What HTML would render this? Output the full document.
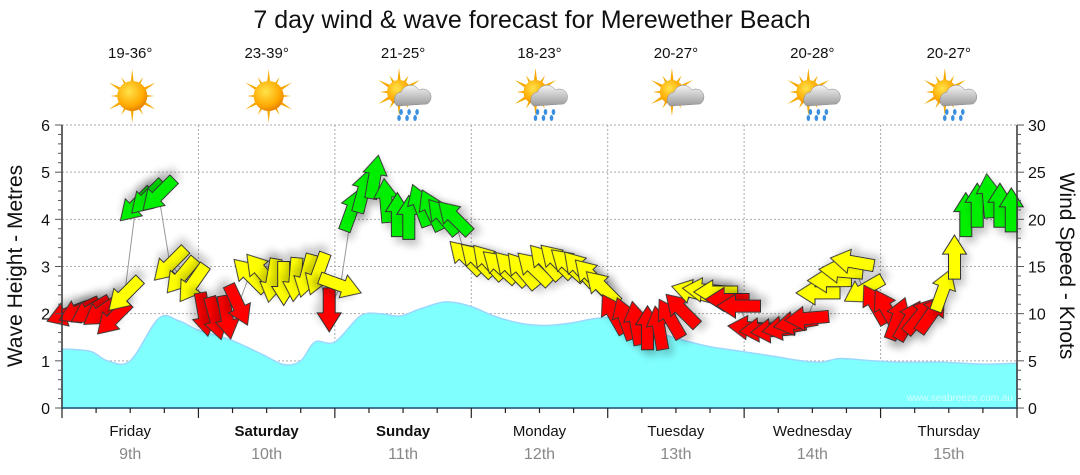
<!DOCTYPE html>
<html><head><meta charset="utf-8"><style>
html,body{margin:0;padding:0;background:#fff;}
svg{display:block;font-family:"Liberation Sans",Verdana,sans-serif;}
</style></head><body>
<svg id="chart" width="1080" height="475" viewBox="0 0 1080 475">
<defs>
<filter id="sh" x="-50%" y="-50%" width="200%" height="200%"><feGaussianBlur in="SourceAlpha" stdDeviation="4"/><feOffset dx="4" dy="6"/><feComponentTransfer><feFuncA type="linear" slope="0.22"/></feComponentTransfer><feMerge><feMergeNode/><feMergeNode in="SourceGraphic"/></feMerge></filter>
<radialGradient id="sun" cx="0.4" cy="0.35" r="0.7"><stop offset="0" stop-color="#ffe34a"/><stop offset="0.7" stop-color="#ffa800"/><stop offset="1" stop-color="#e07a00"/></radialGradient>
<linearGradient id="cloud" x1="0" y1="0" x2="0" y2="1"><stop offset="0" stop-color="#f4f4f4"/><stop offset="1" stop-color="#9a9a9a"/></linearGradient>
</defs>
<text x="532" y="28" text-anchor="middle" font-size="25" fill="#111">7 day wind &amp; wave forecast for Merewether Beach</text>
<g id="grid"></g>
<g id="wave"></g>
<g id="wind"></g>
<g id="axes"></g>
<g id="topg"></g>
<text x="1013" y="401" text-anchor="end" font-size="10" fill="#d0ffff">www.seabreeze.com.au</text>
<text transform="translate(22,266) rotate(-90)" text-anchor="middle" font-size="21" fill="#111">Wave Height - Metres</text>
<text transform="translate(1060,266) rotate(90)" text-anchor="middle" font-size="21" fill="#111">Wind Speed - Knots</text>
</svg>
<script>
const days = ["Friday","Saturday","Sunday","Monday","Tuesday","Wednesday","Thursday"];
const dates = ["9th","10th","11th","12th","13th","14th","15th"];
const boldDays = [false,true,true,false,false,false,false];
const temps = ["19-36°","23-39°","21-25°","18-23°","20-27°","20-28°","20-27°"];
const icons = ["sun","sun","rain","rain","cloud","rain","rain"];
const waveTicks = [0,1,2,3,4,5,6];
const windTicks = [0,5,10,15,20,25,30];
const waveHours = [0,5,8,12,17,20.5,24,29.5,35,39,42,44.5,48,52.5,56,59.5,63,67.5,72,76,80.5,85,89.5,94,98,103.5,109,114,119.5,125,130,133.5,137,142.5,147.5,155,162,168];
const waveHeights = [1.25,1.2,1.0,1.0,1.9,1.85,1.65,1.45,1.15,0.92,1.0,1.4,1.4,1.95,2.0,1.95,2.1,2.25,2.15,1.95,1.8,1.75,1.8,1.9,1.9,1.65,1.45,1.3,1.2,1.1,1.0,0.97,1.05,1.0,0.97,0.97,0.93,0.95];
const windSpeeds = [10,10.3,10.3,10.2,9.5,12,21.5,22.3,22.6,15.2,14,13.2,
 9.9,9.5,9.6,10.9,14.1,14.5,13.5,13.2,13.6,14,14.2,10.4,
 13,21,23,24.5,22,20.5,20.2,21.5,21,20.3,20.2,16,
 15.7,15.5,15,14.8,14.6,14.8,15.5,15.6,15.2,14.8,14,12.8,
 10,9.5,9,8.5,8.5,9.5,10.4,12.3,12.5,12.3,11.5,10.8,
 8.5,8.3,8.2,8.5,9,9.5,12.2,13.5,14.5,15.5,12.5,11,
 10.5,9.5,9.3,9.8,10,12.5,16,20.5,21.5,22.5,21.5,21];
const windDirs = [250,245,240,235,225,225,225,225,225,225,220,215,
 170,165,170,155,315,320,190,180,185,195,200,180,
 110,20,15,10,355,0,0,340,335,320,315,315,
 315,318,312,316,320,314,318,315,312,318,316,315,
 330,340,350,0,350,330,315,285,275,270,270,270,
 275,265,265,260,260,265,270,270,275,280,240,330,
 330,20,30,40,35,20,0,0,0,355,0,0];

const NS="http://www.w3.org/2000/svg";
const X0=62,X1=1017,Y0=408,Y1=125;
const xH=h=>X0+(X1-X0)*h/168;
const yW=m=>Y0-(Y0-Y1)*m/6;
const yK=k=>Y0-(Y0-Y1)*k/30;
function mk(tag,attrs,parent){const e=document.createElementNS(NS,tag);for(const k in attrs)e.setAttribute(k,attrs[k]);parent.appendChild(e);return e;}
const G=id=>document.getElementById(id);

// grid
const gridG=G('grid');
waveTicks.forEach(t=>{if(t>0){const l=mk('line',{x1:X0,x2:X1,y1:yW(t),y2:yW(t),stroke:'#aaa','stroke-dasharray':'2,2','stroke-width':1},gridG);

}});
for(let dd=1;dd<7;dd++){const l=mk('line',{x1:xH(dd*24),x2:xH(dd*24),y1:Y1,y2:Y0,stroke:'#aaa','stroke-dasharray':'2,2'},gridG);

}

// wave area (smoothed)
const wp=waveHours.map((h,i)=>[xH(h),yW(waveHeights[i])]);
let wd='M'+X0+','+Y0+' L'+wp[0][0].toFixed(1)+','+wp[0][1].toFixed(1);
for(let i=0;i<wp.length-1;i++){
  const p0=wp[Math.max(0,i-1)],p1=wp[i],p2=wp[i+1],p3=wp[Math.min(wp.length-1,i+2)];
  const c1=[p1[0]+(p2[0]-p0[0])/6,p1[1]+(p2[1]-p0[1])/6],c2=[p2[0]-(p3[0]-p1[0])/6,p2[1]-(p3[1]-p1[1])/6];
  wd+=' C'+c1[0].toFixed(1)+','+c1[1].toFixed(1)+' '+c2[0].toFixed(1)+','+c2[1].toFixed(1)+' '+p2[0].toFixed(1)+','+p2[1].toFixed(1);
}
wd+=' L'+X1+','+Y0+' Z';
const wa=mk('path',{d:wd,fill:'#80ffff',stroke:'#9ad8ff','stroke-width':1.5},G('wave'));



// wind
const windG=G('wind');
const pts=windSpeeds.map((k,i)=>[xH(1+2*i),yK(k)]);
const pl=mk('polyline',{points:pts.map(p=>p.join(',')).join(' '),fill:'none',stroke:'#999','stroke-width':1},windG);


const arrowD='M0,-22 L12,-3 L6,-3 L6,22 L-6,22 L-6,-3 L-12,-3 Z';
windSpeeds.forEach((k,i)=>{
  const col=k<12?'#ff0000':(k<20?'#ffff00':'#00ee00');
  const a=mk('path',{d:arrowD,fill:col,stroke:'#333','stroke-width':1,filter:'url(#sh)',transform:'translate('+pts[i][0].toFixed(1)+','+pts[i][1].toFixed(1)+') rotate('+windDirs[i]+')'},windG);
  
  
});

// axes
const axG=G('axes');
mk('line',{x1:X0,x2:X0,y1:Y1,y2:Y0,stroke:'#333','stroke-width':1.5},axG);
mk('line',{x1:X1,x2:X1,y1:Y1,y2:Y0,stroke:'#333','stroke-width':1.5},axG);
mk('line',{x1:X0,x2:X1,y1:Y0,y2:Y0,stroke:'#1d4f70','stroke-width':1.5},axG);
for(let m=0;m<=6.001;m+=0.2){const y=yW(m);const maj=Math.abs(m-Math.round(m))<0.01;mk('line',{x1:X0-(maj?7:4),x2:X0,y1:y,y2:y,stroke:'#555'},axG);}
for(let k=0;k<=30;k+=1){const y=yK(k);const maj=k%5==0;mk('line',{x1:X1,x2:X1+(maj?7:4),y1:y,y2:y,stroke:'#555'},axG);}
waveTicks.forEach(t=>{const e=mk('text',{x:50,y:yW(t)+6,'text-anchor':'end','font-size':16,fill:'#111'},axG);e.textContent=t;

});
windTicks.forEach(t=>{const e=mk('text',{x:1028,y:yK(t)+6,'text-anchor':'start','font-size':16,fill:'#111'},axG);e.textContent=t;

});
for(let h=0;h<=168;h+=6){const x=xH(h);mk('line',{x1:x,x2:x,y1:Y0,y2:Y0+(h%24==0?10:5),stroke:'#222','stroke-width':1.2},axG);}

// top / labels
const topG=G('topg');
days.forEach((dn,i)=>{
  const cx=xH(i*24+12);
  const t=mk('text',{x:cx,y:436,'text-anchor':'middle','font-size':15,fill:'#111','font-weight':boldDays[i]?'bold':'normal'},topG);t.textContent=dn;
  
  
  const d2=mk('text',{x:cx,y:459,'text-anchor':'middle','font-size':16,fill:'#888'},topG);d2.textContent=dates[i];
  
  
  const tp=mk('text',{x:cx,y:58,'text-anchor':'middle','font-size':15,fill:'#111'},topG);tp.textContent=temps[i];
  
  
  const g=mk('g',{transform:'translate('+(cx+2)+',96)'},topG);
  
  
  const sx=icons[i]=='sun'?0:-6, sy=icons[i]=='sun'?0:-4, r=icons[i]=='sun'?15:12;
  for(let a=0;a<360;a+=30){const L=(a%60==0)?r+12:r+7;mk('path',{d:'M-3,0 L0,-'+L+' L3,0 Z',fill:'#f5a800',transform:'translate('+sx+','+sy+') rotate('+a+')'},g);}
  mk('circle',{cx:sx,cy:sy,r:r,fill:'url(#sun)'},g);
  if(icons[i]!='sun'){
    mk('path',{d:'M-8,10 a8,8 0 0 1 4,-14 a10,10 0 0 1 18,-2 a8,8 0 0 1 8,14 Z',fill:'url(#cloud)',stroke:'#888','stroke-width':0.5},g);
    if(icons[i]=='rain'){[-4,4,12].forEach(dx=>{mk('ellipse',{cx:dx,cy:16,rx:1.8,ry:3,fill:'#3a8fe0'},g);mk('ellipse',{cx:dx-2,cy:22,rx:1.8,ry:3,fill:'#3a8fe0'},g);});}
  }
});
</script>
</body></html>
